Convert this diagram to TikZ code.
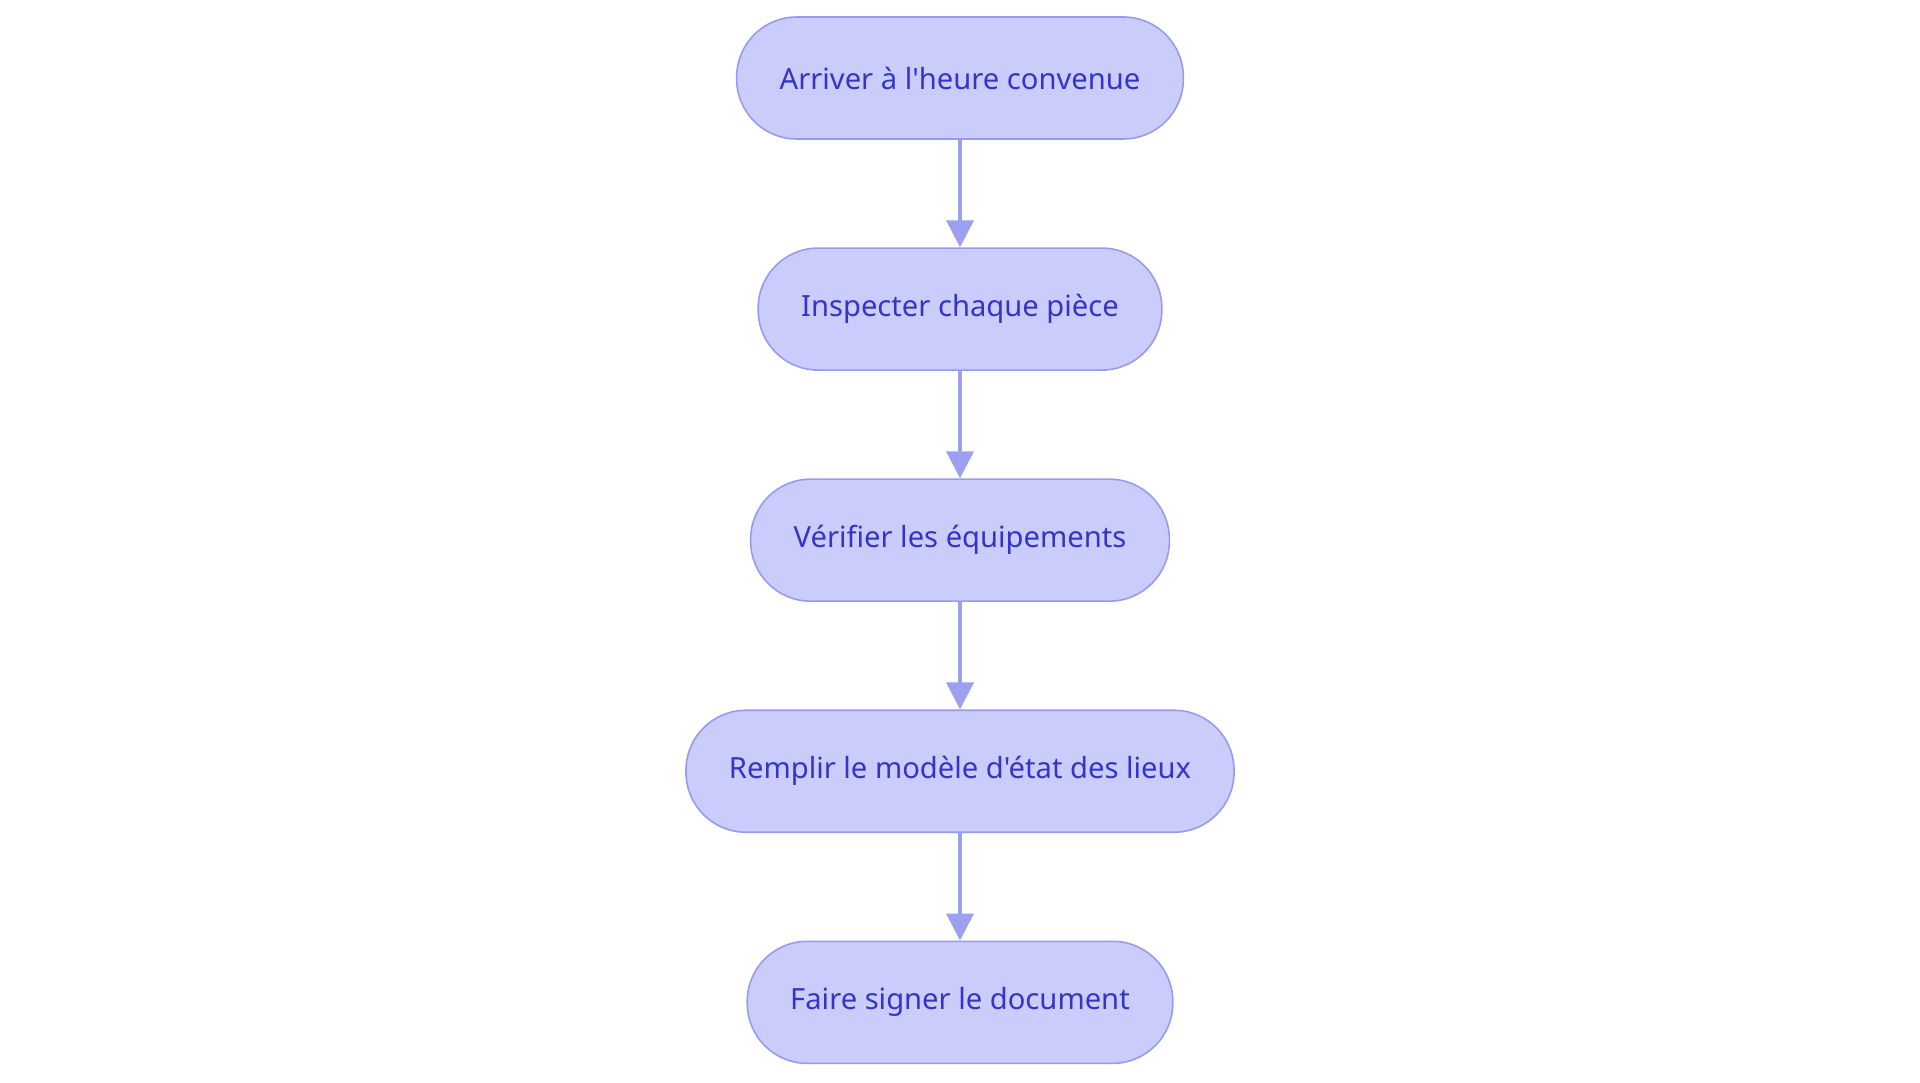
\documentclass[tikz,border=0pt]{standalone}
\usepackage{fontspec}
\setmainfont{Noto Sans}[Ligatures=TeXOff]
\usepackage{tikz}
\usetikzlibrary{arrows.meta,positioning}

\definecolor{stepfill}{RGB}{202,204,252}
\definecolor{stepline}{RGB}{150,155,240}
\definecolor{steptext}{RGB}{52,52,200}
\definecolor{arrowcol}{RGB}{156,160,240}

\tikzset{
	stepbox/.style={rectangle, rounded corners=1.2cm, draw=stepline, line width=0.9pt,
		fill=stepfill, text=steptext, minimum height=2.44cm, inner xsep=0.86cm,
		font=\fontsize{16.6}{19}\selectfont},
	flow/.style={draw=arrowcol, line width=2.2pt, -{Triangle[length=0.54cm, width=0.54cm]}}
}

\begin{document}
\begin{tikzpicture}[node distance=2.15cm]
		\useasboundingbox (0,0) rectangle (38.4,-21.66);
		\node[stepbox] (arriver) at (19.2,-1.56) {Arriver à l'heure convenue};
		\node[stepbox, below=of arriver] (inspecter) {Inspecter chaque pièce};
		\node[stepbox, below=of inspecter] (verifier) {Vérifier les équipements};
		\node[stepbox, below=of verifier] (remplir) {Remplir le modèle d'état des lieux};
		\node[stepbox, below=of remplir] (signer) {Faire signer le document};
		\draw[flow] (arriver) -- (inspecter);
		\draw[flow] (inspecter) -- (verifier);
		\draw[flow] (verifier) -- (remplir);
		\draw[flow] (remplir) -- (signer);
	\end{tikzpicture}
\end{document}
